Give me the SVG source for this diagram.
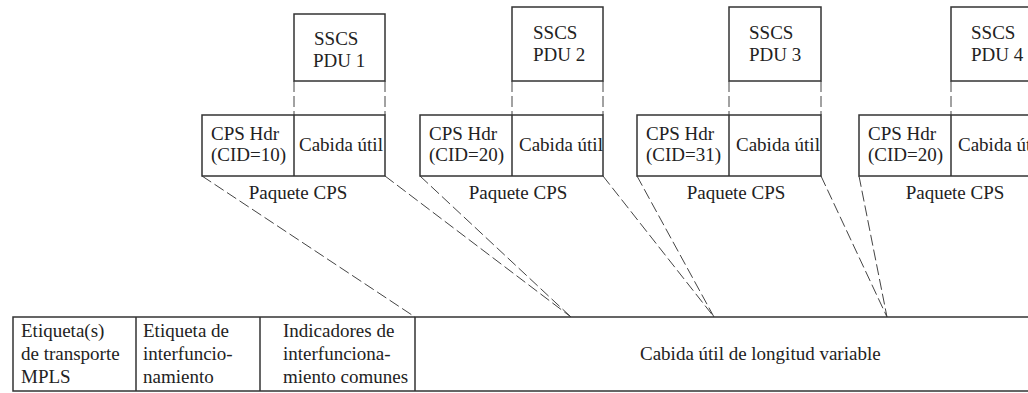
<svg xmlns="http://www.w3.org/2000/svg" width="1028" height="393" viewBox="0 0 1028 393">
  <style>
    .box { fill: #ffffff; stroke: #333333; stroke-width: 1.5; }
    .div { stroke: #333333; stroke-width: 1.5; fill: none; }
    .dash { stroke: #444444; stroke-width: 1; fill: none; stroke-dasharray: 11 4; }
    text { font-family: "Liberation Serif", "Times New Roman", serif; font-size: 19px; fill: #222222; }
    .mid { text-anchor: middle; }
  </style>

  <rect width="1028" height="393" fill="#ffffff"/>

  <!-- connectors: SSCS PDU to payload, CPS packet to variable-length payload -->
  <g id="connectors">
    <line class="dash" x1="294" y1="81" x2="294" y2="115"/>
    <line class="dash" x1="385" y1="81" x2="385" y2="115"/>
    <line class="dash" x1="512" y1="81" x2="512" y2="115"/>
    <line class="dash" x1="603" y1="81" x2="603" y2="115"/>
    <line class="dash" x1="729" y1="81" x2="729" y2="115"/>
    <line class="dash" x1="821" y1="81" x2="821" y2="115"/>
    <line class="dash" x1="951" y1="81" x2="951" y2="115"/>

    <line class="dash" x1="202" y1="176" x2="415" y2="317"/>
    <line class="dash" x1="385" y1="176" x2="571" y2="317"/>
    <line class="dash" x1="420" y1="176" x2="571" y2="317"/>
    <line class="dash" x1="603" y1="176" x2="714" y2="317"/>
    <line class="dash" x1="637" y1="176" x2="714" y2="317"/>
    <line class="dash" x1="821" y1="176" x2="887" y2="317"/>
    <line class="dash" x1="859" y1="176" x2="887" y2="317"/>
  </g>

  <!-- SSCS PDUs -->
  <g id="sscs1">
    <rect class="box" x="294" y="14" width="91" height="67"/>
    <text x="314" y="45">SSCS</text>
    <text x="313" y="67">PDU 1</text>
  </g>
  <g id="sscs2">
    <rect class="box" x="512" y="7" width="91" height="74"/>
    <text x="533" y="39">SSCS</text>
    <text x="533" y="61">PDU 2</text>
  </g>
  <g id="sscs3">
    <rect class="box" x="729" y="7" width="92" height="74"/>
    <text x="749" y="39">SSCS</text>
    <text x="749" y="61">PDU 3</text>
  </g>
  <g id="sscs4">
    <rect class="box" x="951" y="7" width="92" height="74"/>
    <text x="971" y="39">SSCS</text>
    <text x="971" y="61">PDU 4</text>
  </g>

  <!-- CPS packets -->
  <g id="cps1">
    <rect class="box" x="202" y="115" width="183" height="61"/>
    <line class="div" x1="294" y1="115" x2="294" y2="176"/>
    <text x="211" y="140">CPS Hdr</text>
    <text x="211" y="161">(CID=10)</text>
    <text x="299" y="151">Cabida útil</text>
    <text class="mid" x="298" y="199">Paquete CPS</text>
  </g>
  <g id="cps2">
    <rect class="box" x="420" y="115" width="183" height="61"/>
    <line class="div" x1="512" y1="115" x2="512" y2="176"/>
    <text x="429" y="140">CPS Hdr</text>
    <text x="429" y="161">(CID=20)</text>
    <text x="519" y="151">Cabida útil</text>
    <text class="mid" x="518" y="199">Paquete CPS</text>
  </g>
  <g id="cps3">
    <rect class="box" x="637" y="115" width="184" height="61"/>
    <line class="div" x1="729" y1="115" x2="729" y2="176"/>
    <text x="646" y="140">CPS Hdr</text>
    <text x="646" y="161">(CID=31)</text>
    <text x="736" y="151">Cabida útil</text>
    <text class="mid" x="736" y="199">Paquete CPS</text>
  </g>
  <g id="cps4">
    <rect class="box" x="859" y="115" width="184" height="61"/>
    <line class="div" x1="951" y1="115" x2="951" y2="176"/>
    <text x="868" y="140">CPS Hdr</text>
    <text x="868" y="161">(CID=20)</text>
    <text x="958" y="151">Cabida útil</text>
    <text class="mid" x="955" y="199">Paquete CPS</text>
  </g>

  <!-- MPLS frame -->
  <g id="frame">
    <rect class="box" x="13" y="317" width="1030" height="74"/>
    <line class="div" x1="136" y1="317" x2="136" y2="391"/>
    <line class="div" x1="260" y1="317" x2="260" y2="391"/>
    <line class="div" x1="415" y1="317" x2="415" y2="391"/>
  </g>
  <g id="transport-label">
    <text x="21" y="337">Etiqueta(s)</text>
    <text x="21" y="360">de transporte</text>
    <text x="21" y="383">MPLS</text>
  </g>
  <g id="iw-label">
    <text x="143" y="337">Etiqueta de</text>
    <text x="143" y="360">interfuncio-</text>
    <text x="143" y="383">namiento</text>
  </g>
  <g id="iw-flags">
    <text x="283" y="337">Indicadores de</text>
    <text x="283" y="360">interfunciona-</text>
    <text x="283" y="383">miento comunes</text>
  </g>
  <g id="payload">
    <text x="640" y="360">Cabida útil de longitud variable</text>
  </g>
</svg>
